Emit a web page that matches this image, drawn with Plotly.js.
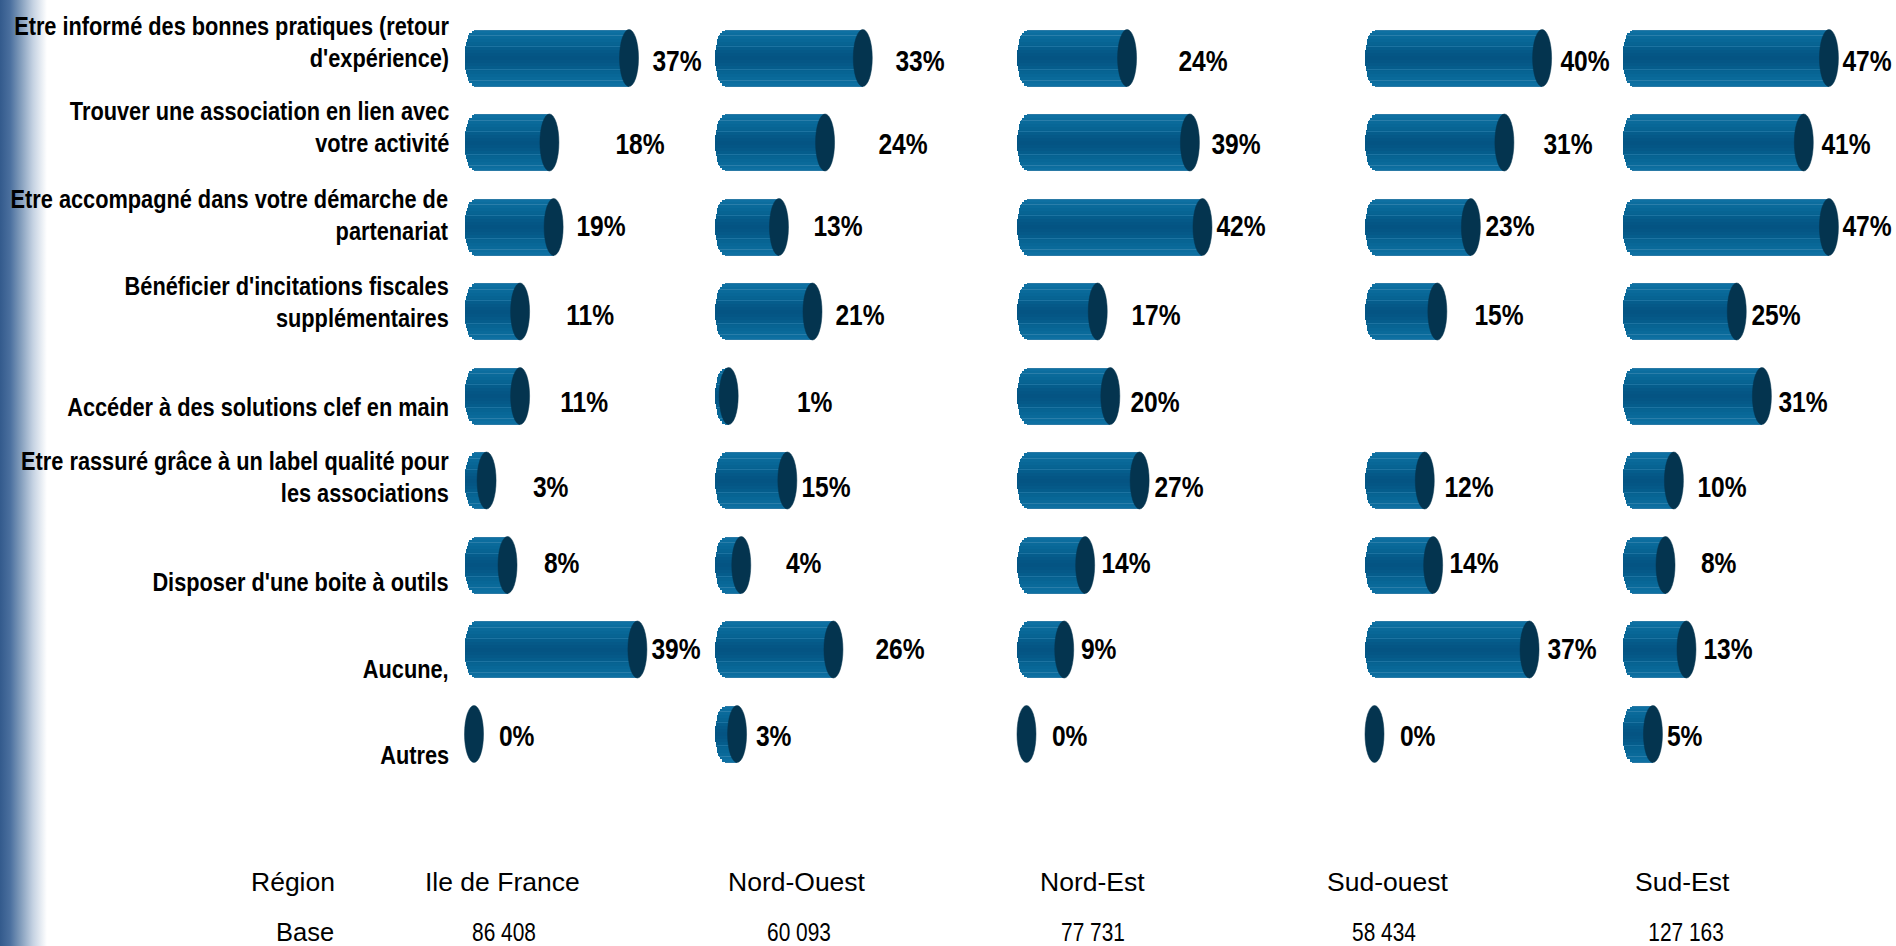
<!DOCTYPE html>
<html><head><meta charset="utf-8">
<script src="https://cdn.plot.ly/plotly-3.0.1.min.js"></script>
<style>html,body{margin:0;padding:0;background:#fff;overflow:hidden}
#band{position:absolute;left:0;top:0;width:60px;height:946px;background:linear-gradient(to right,#335a8c 0,#4a6f9e 10px,#7f9aba 20px,#c5d2e2 33px,#ffffff 47px)}
#chart{position:absolute;left:0;top:0;width:1896px;height:946px}</style>
</head><body><div id="band"></div><div id="chart"></div>
<script>
const categories = ["Etre informé des bonnes pratiques (retour<br>d'expérience)","Trouver une association en lien avec<br>votre activité","Etre accompagné dans votre démarche de<br>partenariat","Bénéficier d'incitations fiscales<br>supplémentaires","Accéder à des solutions clef en main","Etre rassuré grâce à un label qualité pour<br>les associations","Disposer d'une boite à outils","Aucune,","Autres"];
const regions = ["Ile de France","Nord-Ouest","Nord-Est","Sud-ouest","Sud-Est"];
const bases = ["86 408","60 093","77 731","58 434","127 163"];
const ileDeFrance = [37,18,19,11,11,3,8,39,0];
const nordOuest = [33,24,13,21,1,15,4,26,3];
const nordEst = [24,39,42,17,20,27,14,9,0];
const sudOuest = [40,31,23,15,null,12,14,37,0];
const sudEst = [47,41,47,25,31,10,8,13,5];
const series = [ileDeFrance,nordOuest,nordEst,sudOuest,sudEst];

// layout (pixels)
const W=1896,H=946,rowTop=58,rowStep=84.5,pxPer=4.19,halfH=28.5,capA=9.5;
const zeroPx=[474,724.5,1026.5,1374.5,1632];
const edges=[455,715,1015,1360,1612,1896];
const labelCx=[[677,640,601,590,584,550,561,676,516],[920,903,838,860,814,826,803,900,773],[1203,1236,1241,1156,1155,1179,1126,1098,1069],[1585,1568,1510,1499,null,1469,1474,1572,1417],[1867,1846,1867,1776,1803,1722,1718,1728,1684]];
const labelY=[60,143,225,314,401,486,562,648,735];
const catY=[42,127.5,215,302,407,478,582,669,755];
// cylinder shading: half-height in px -> colour, drawn from outer to inner
const shade=[[28.5,'#2a7aa6'],[27.5,'#0e70a2'],[25,'#0c6d9e'],[23,'#2a7eaa'],[22,'#0a6a9a'],[19,'#086797'],[16,'#076493'],[13,'#066190'],[12,'#1c73a1'],[11,'#055d8c'],[8,'#055988'],[5,'#045685'],[2,'#045483']];

const data=[],shapes=[],annotations=[],layout={};
const yRange=[(H-rowTop)/rowStep,-rowTop/rowStep];
series.forEach((vals,p)=>{
  const n=p?String(p+1):'';
  const xa='xaxis'+n, xr='x'+n;
  layout[xa]={domain:[edges[p]/W,edges[p+1]/W],range:[(edges[p]-zeroPx[p])/pxPer,(edges[p+1]-zeroPx[p])/pxPer],visible:false,anchor:'y',fixedrange:true};
  shade.forEach(([h,c])=>{
    const f=h/halfH, off=capA*Math.sqrt(Math.max(0,1-f*f))/pxPer;
    data.push({type:'bar',orientation:'h',xaxis:xr,yaxis:'y',y:categories,
      x:vals.map(v=>v===null||v===0?null:v+off),base:-off,width:2*h/rowStep,
      marker:{color:c,line:{width:0}},hoverinfo:'skip',showlegend:false});
  });
  vals.forEach((v,i)=>{
    if(v===null) return;
    shapes.push({type:'circle',xref:xr,yref:'y',xsizemode:'pixel',xanchor:v,x0:-capA,x1:capA,y0:i-halfH/rowStep,y1:i+halfH/rowStep,fillcolor:'#04344f',line:{width:0.5,color:'#04344f'},layer:'above'});
    annotations.push({xref:xr,yref:'paper',x:v,y:1-labelY[i]/H,xshift:labelCx[p][i]-(zeroPx[p]+v*pxPer),showarrow:false,text:v+'%',
      font:{family:'"Liberation Sans"',size:30,color:'#000',weight:700},xanchor:'center',yanchor:'middle'});
  });
});
categories.forEach((c,i)=>{
  annotations.push({xref:'paper',yref:'paper',x:451/W,y:1-catY[i]/H,xanchor:'right',yanchor:'middle',align:'right',showarrow:false,text:c,
    font:{family:'"Liberation Sans"',size:25,color:'#000',weight:700}});
});
const regCx=[502,797,1092,1387,1682],baseCx=[504,799,1093,1384,1686];
const txt=(t,x,y,s)=>annotations.push({xref:'paper',yref:'paper',x:x/W,y:1-y/H,xanchor:'center',yanchor:'middle',showarrow:false,text:t,font:{family:'"Liberation Sans"',size:s,color:'#000'}});
txt('Région',293,882,26.5);
txt('Base',305,932,25.5);
regions.forEach((r,i)=>txt(r,regCx[i],882,26.5));
bases.forEach((b,i)=>txt(b,baseCx[i],932,25.5));

Object.assign(layout,{width:W,height:H,margin:{l:0,r:0,t:0,b:0},barmode:'overlay',bargap:0,paper_bgcolor:'rgba(0,0,0,0)',plot_bgcolor:'rgba(0,0,0,0)',showlegend:false,
  yaxis:{type:'category',categoryorder:'array',categoryarray:categories,range:yRange,visible:false,domain:[0,1],fixedrange:true},
  shapes,annotations});
Plotly.newPlot('chart',data,layout,{displayModeBar:false,staticPlot:true}).then(()=>{
  // the original text is a horizontally condensed Arial: narrow the labels about their anchor
  document.querySelectorAll('.annotation-text').forEach(t=>{
    const s=t.textContent, bold=/%$/.test(s), base=bases.includes(s);
    const isCat=t.style.fontWeight==='700' && !bold;
    if(!bold && !isCat && !base) return;
    t.style.transformBox='fill-box';
    t.style.transformOrigin=isCat?'right center':'center center';
    t.style.transform='scaleX('+(isCat?0.87:0.82)+')';
  });
});
</script></body></html>
